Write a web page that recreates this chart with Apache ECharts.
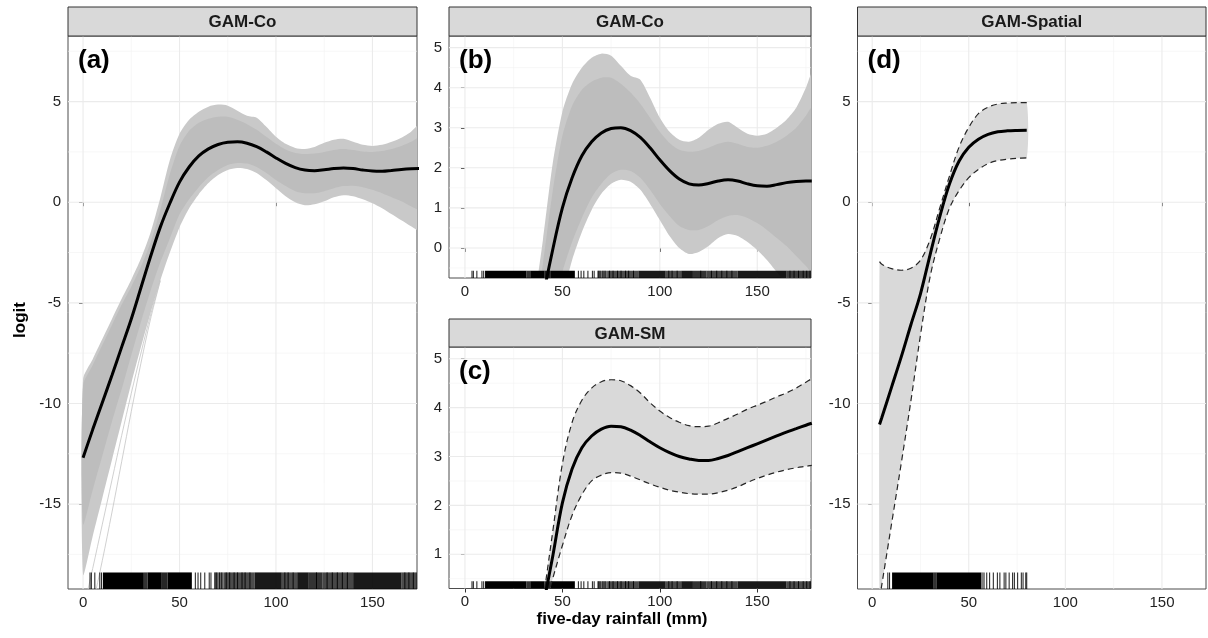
<!DOCTYPE html>
<html><head><meta charset="utf-8">
<script src="https://cdn.jsdelivr.net/npm/echarts@6/dist/echarts.min.js"></script>
<style>html,body{margin:0;padding:0;background:#fff;}#chart{width:1208px;height:638px;}</style>
</head><body><div id="chart"></div>
<script>
// ---------------- DATA ----------------
// GAM-Co: posterior simulation envelope + mean (panels a, b)
const coX = [0,5,10,15,20,25,30,35,40,45,50,55,60,65,70,75,80,85,90,95,100,105,110,115,120,125,130,135,140,145,150,155,160,165,170,175,178];
const coMean = [-12.7,-11.3,-9.95,-8.6,-7.2,-5.8,-4.25,-2.7,-1.25,-0.05,1.0,1.75,2.3,2.65,2.87,2.98,3.0,2.93,2.76,2.5,2.2,1.93,1.72,1.6,1.57,1.61,1.67,1.7,1.67,1.6,1.55,1.54,1.58,1.63,1.66,1.67,1.67];
const coInnerUpper = [-9.1,-8.1,-7.1,-6.1,-5.1,-4.2,-3.2,-2.0,-0.4,1.4,2.8,3.55,3.95,4.15,4.25,4.25,4.1,3.88,3.6,3.25,2.9,2.62,2.45,2.4,2.42,2.5,2.6,2.65,2.6,2.52,2.5,2.55,2.65,2.8,3.0,3.3,3.5];
const coInnerLower = [-16.0,-14.3,-12.6,-10.9,-9.3,-7.6,-5.95,-4.4,-3.0,-1.8,-0.6,0.15,0.75,1.25,1.6,1.85,1.95,1.92,1.75,1.45,1.1,0.8,0.55,0.45,0.45,0.55,0.7,0.8,0.82,0.75,0.62,0.45,0.25,0.05,-0.2,-0.45,-0.6];
const coOuterUpper = [-8.8,-7.8,-6.8,-5.8,-4.8,-3.85,-2.8,-1.5,0.2,2.1,3.4,4.1,4.5,4.75,4.85,4.8,4.55,4.3,4.2,3.75,3.25,2.9,2.7,2.65,2.75,2.95,3.1,3.15,3.0,2.85,2.8,2.85,3.0,3.2,3.5,4.0,4.35];
const coOuterLower = [-18.5,-16.6,-14.7,-12.8,-10.9,-9.0,-7.2,-5.5,-3.9,-2.5,-1.25,-0.3,0.4,0.95,1.35,1.6,1.7,1.65,1.45,1.1,0.7,0.3,0.0,-0.15,-0.1,0.05,0.25,0.35,0.3,0.15,-0.05,-0.3,-0.6,-0.9,-1.2,-1.5,-1.7];
// stray simulation curves
const coSimX = [0,5,10,15,20,25,30,35,40];
const coSimLowA = [-20.3,-18.2,-16.0,-13.8,-11.6,-9.5,-7.5,-5.6,-3.9];
const coSimLowB = [-22.0,-20.0,-17.8,-15.4,-12.9,-10.4,-8.0,-5.8,-3.9];

// GAM-SM (panel c)
const smX = [38,41,45,50,55,60,65,70,75,80,85,90,95,100,105,110,115,120,125,130,135,140,145,150,155,160,165,170,175,178];
const smMean = [-0.5,0.12,0.95,2.05,2.75,3.18,3.42,3.56,3.62,3.61,3.54,3.43,3.3,3.18,3.08,3.0,2.95,2.92,2.92,2.96,3.02,3.1,3.18,3.26,3.34,3.42,3.5,3.57,3.64,3.68];
const smUpper = [-0.55,0.31,1.45,2.85,3.7,4.15,4.4,4.53,4.57,4.55,4.45,4.3,4.1,3.93,3.8,3.7,3.63,3.61,3.62,3.69,3.78,3.87,3.97,4.05,4.13,4.22,4.3,4.4,4.52,4.59];
const smLower = [-0.45,-0.05,0.5,1.18,1.8,2.22,2.5,2.62,2.67,2.66,2.6,2.52,2.44,2.37,2.31,2.27,2.24,2.23,2.23,2.26,2.31,2.38,2.47,2.55,2.62,2.68,2.73,2.77,2.8,2.82];

// GAM-Spatial (panel d)
const spX = [3.8,5,10,15,20,25,30,35,40,45,50,55,60,65,70,75,80];
const spMean = [-11.05,-10.7,-9.2,-7.7,-6.1,-4.55,-2.6,-0.72,0.9,2.05,2.73,3.13,3.37,3.5,3.55,3.57,3.58];
const spUpper = [-2.95,-3.08,-3.3,-3.38,-3.28,-2.88,-1.85,-0.28,1.3,2.75,3.72,4.4,4.72,4.88,4.93,4.95,4.95];
const spLower = [-19.7,-19.0,-16.0,-13.0,-9.9,-6.6,-3.7,-1.8,-0.3,0.58,1.22,1.63,1.92,2.07,2.14,2.18,2.2];

// rug (observed rainfall): single ticks and dense blocks [from, to, density]
const rugTicksCo = [3.6,4.3,6.1,8.7,9.6,58.2,59.6,61.0,63.1,65.4,66.3,68.4,69.3,70.8,71.9,74.2,76.0,78.3,80.1,82.4,84.0,86.5,104.6,106.3,108.9,121.0,126.5,129.2,131.8,134.4,137.0,166.8,168.9,171.2,173.6,175.4,177.1];
const rugBlocksCo = [[10.3,31.5,1],[31.5,33.5,0.8],[33.5,40.8,1],[40.8,43.8,0.85],[43.8,56.4,1],[68,73,0.55],[73,89,0.7],[89,103,0.9],[103,111,0.7],[111,117,0.9],[117,124,0.8],[124,140,0.72],[140,165,0.9],[165,178,0.7]];
const rugTicksSp = [8.1,9.0,57.9,59.3,60.8,62.7,64.8,66.1,68.3,69.2,70.9,72.7,73.6,75.3,77.2,78.1,79.5,80.0];
const rugBlocksSp = [[10.3,31.5,1],[31.5,33.5,0.8],[33.5,56.4,1],[56.4,57.5,0.5]];

// ticks / labels
const xTicks = [0,50,100,150];
const xMinorA = [25,75,125];
const xMinorB = [25,75,125,175];
const yTicksWide = [-15,-10,-5,0,5];
const yMinorWide = [-17.5,-12.5,-7.5,-2.5,2.5,7.5];
const yTicksB = [0,1,2,3,4,5];
const yMinorB = [-0.5,0.5,1.5,2.5,3.5,4.5];
const yTicksC = [1,2,3,4,5];
const yMinorC = [0.5,1.5,2.5,3.5,4.5];
const stripTitles = ['GAM-Co','GAM-Co','GAM-SM','GAM-Spatial'];
const panelTags = ['(a)','(b)','(c)','(d)'];
const yTitle = 'logit';
const xTitle = 'five-day rainfall (mm)';

// ---------------- LAYOUT ----------------
const FONT = '"Liberation Sans", Arial, Helvetica, sans-serif';
const panels = [
  {grid:{left:68,top:36,width:349,height:553}, stripTop:7, x:[-7.8,173.1], y:[-19.22,8.26], yT:yTicksWide, yM:yMinorWide, xM:xMinorA},
  {grid:{left:449,top:36,width:362,height:242}, stripTop:7, x:[-8.2,177.6], y:[-0.75,5.29], yT:yTicksB, yM:yMinorB, xM:xMinorB},
  {grid:{left:449,top:347,width:362,height:241.5}, stripTop:319, x:[-8.2,177.6], y:[0.30,5.24], yT:yTicksC, yM:yMinorC, xM:xMinorB},
  {grid:{left:857.5,top:36,width:348.5,height:553}, stripTop:7, x:[-7.6,172.8], y:[-19.22,8.26], yT:yTicksWide, yM:yMinorWide, xM:xMinorA}
];

function pairs(xs, ys){ return xs.map((x,k)=>[x, ys[k]]); }
function clipRect(cs){ return {type:'rect', shape:{x:cs.x, y:cs.y, width:cs.width, height:cs.height}}; }

const grids=[], xAxes=[], yAxes=[], series=[], graphics=[];

function gridLines(i, vals, vertical, color, width){
  const p = panels[i];
  return {
    type:'custom', xAxisIndex:i, yAxisIndex:i, silent:true, z:1, animation:false,
    data: vals.map(v => vertical ? [v, p.y[0]] : [p.x[0], v]),
    renderItem:(params, api)=>{
      const cs = params.coordSys;
      const pt = api.coord([api.value(0), api.value(1)]);
      const shape = vertical ? {x1:pt[0], y1:cs.y, x2:pt[0], y2:cs.y+cs.height}
                             : {x1:cs.x, y1:pt[1], x2:cs.x+cs.width, y2:pt[1]};
      return {type:'line', shape, style:{stroke:color, lineWidth:width}};
    }
  };
}

function rug(i, blocks, ticks){
  const p = panels[i];
  const data = blocks.map(b=>[b[0], b[1], b[2]]).concat(ticks.map(t=>[t, t, 0.9]));
  return {
    type:'custom', xAxisIndex:i, yAxisIndex:i, silent:true, z:4, animation:false,
    dimensions:['from','to','d'], encode:{x:[0,1]},
    data,
    renderItem:(params, api)=>{
      const cs = params.coordSys;
      const a = api.coord([api.value(0), p.y[0]]);
      const b = api.coord([api.value(1), p.y[0]]);
      let l = a[0], r = b[0];
      if (r - l < 1) { l -= 0.5; r = l + 1; }
      l = Math.max(l, cs.x); r = Math.min(r, cs.x + cs.width);
      if (r <= l) return null;
      const len = cs.height * 0.03;
      return {type:'rect', shape:{x:l, y:cs.y+cs.height-len, width:r-l, height:len},
              style:{fill:'rgba(0,0,0,'+api.value(2)+')'}};
    }
  };
}

// filled band between lo and hi, drawn as one polygon through the axes' scales
function band(i, xs, lo, hi, color, z){
  return {
    type:'custom', xAxisIndex:i, yAxisIndex:i, silent:true, z, animation:false, clip:true,
    dimensions:['x','lo','hi'], encode:{x:0, y:[1,2]},
    data: xs.map((x,k)=>[x, lo[k], hi[k]]),
    renderItem:(params, api)=>{
      if (params.dataIndex !== 0) return null;
      const cs = params.coordSys;
      const top = xs.map((x,k)=>api.coord([x, hi[k]]));
      const bot = xs.map((x,k)=>api.coord([x, lo[k]])).reverse();
      return {type:'group', clipPath:clipRect(cs), children:[
        {type:'polygon', shape:{points:top.concat(bot), smooth:0.25}, style:{fill:color}}
      ]};
    }
  };
}

function line(i, xs, ys, style, z){
  return {type:'line', xAxisIndex:i, yAxisIndex:i, data:pairs(xs, ys), symbol:'none', smooth:0.35,
          silent:true, z, lineStyle:style, animation:false};
}

panels.forEach((p,i)=>{
  grids.push(Object.assign({show:true, borderColor:'#4d4d4d', borderWidth:1, backgroundColor:'#fff', containLabel:false}, p.grid));
  xAxes.push({gridIndex:i, type:'value', min:p.x[0], max:p.x[1], splitLine:{show:false}, axisLine:{show:false},
    axisTick:{show:true, length:4, lineStyle:{color:'#333'}, customValues:xTicks},
    axisLabel:{customValues:xTicks, fontSize:15, color:'#222', margin:6, fontFamily:FONT}});
  yAxes.push({gridIndex:i, type:'value', min:p.y[0], max:p.y[1], splitLine:{show:false}, axisLine:{show:false},
    axisTick:{show:true, length:4, lineStyle:{color:'#333'}, customValues:p.yT},
    axisLabel:{customValues:p.yT, fontSize:15, color:'#222', margin:7, fontFamily:FONT}});
  series.push(gridLines(i, p.xM, true, '#f2f2f2', 0.6));
  series.push(gridLines(i, p.yM, false, '#f2f2f2', 0.6));
  series.push(gridLines(i, xTicks, true, '#ebebeb', 1.1));
  series.push(gridLines(i, p.yT, false, '#ebebeb', 1.1));
  graphics.push({type:'rect', z:50, shape:{x:p.grid.left, y:p.stripTop, width:p.grid.width, height:p.grid.top-p.stripTop},
    style:{fill:'#d9d9d9', stroke:'#333', lineWidth:1}});
  graphics.push({type:'text', z:51, x:p.grid.left+p.grid.width/2, y:(p.stripTop+p.grid.top)/2+1,
    style:{text:stripTitles[i], font:'bold 17px '+FONT, fill:'#1a1a1a', align:'center', verticalAlign:'middle', textAlign:'center', textVerticalAlign:'middle'}});
  graphics.push({type:'text', z:51, x:p.grid.left+10, y:p.grid.top+12,
    style:{text:panelTags[i], font:'bold 26px '+FONT, fill:'#000', align:'left', verticalAlign:'top', textAlign:'left', textVerticalAlign:'top'}});
});

// GAM-Co in panels a and b
[0,1].forEach(i=>{
  series.push(band(i, coX, coOuterLower, coOuterUpper, '#c9c9c9', 2));
  series.push(band(i, coX, coInnerLower, coInnerUpper, '#bdbdbd', 3));
  series.push(line(i, coSimX, coSimLowA, {color:'#c4c4c4', width:0.8}, 3));
  series.push(line(i, coSimX, coSimLowB, {color:'#c4c4c4', width:0.8}, 3));
  series.push(rug(i, rugBlocksCo, rugTicksCo));
  series.push(line(i, coX, coMean, {color:'#000', width:3}, 6));
});
// GAM-SM panel c
series.push(band(2, smX, smLower, smUpper, '#d9d9d9', 2));
series.push(rug(2, rugBlocksCo, rugTicksCo));
series.push(line(2, smX, smUpper, {color:'#262626', width:1.2, type:[6,4]}, 5));
series.push(line(2, smX, smLower, {color:'#262626', width:1.2, type:[6,4]}, 5));
series.push(line(2, smX, smMean, {color:'#000', width:3}, 6));
// GAM-Spatial panel d
series.push(band(3, spX, spLower, spUpper, '#d9d9d9', 2));
series.push(rug(3, rugBlocksSp, rugTicksSp));
series.push(line(3, spX, spUpper, {color:'#262626', width:1.2, type:[6,4]}, 5));
series.push(line(3, spX, spLower, {color:'#262626', width:1.2, type:[6,4]}, 5));
series.push(line(3, spX, spMean, {color:'#000', width:3}, 6));

graphics.push({type:'text', z:51, x:20, y:320, rotation:Math.PI/2,
  style:{text:yTitle, font:'bold 17px '+FONT, fill:'#000', align:'center', verticalAlign:'middle', textAlign:'center', textVerticalAlign:'middle'}});
graphics.push({type:'text', z:51, x:622, y:619,
  style:{text:xTitle, font:'bold 17px '+FONT, fill:'#000', align:'center', verticalAlign:'middle', textAlign:'center', textVerticalAlign:'middle'}});

const chart = echarts.init(document.getElementById('chart'), null, {renderer:'canvas'});
chart.setOption({
  animation:false,
  backgroundColor:'#fff',
  grid:grids, xAxis:xAxes, yAxis:yAxes, series, graphic:graphics
});
</script>
</body></html>
